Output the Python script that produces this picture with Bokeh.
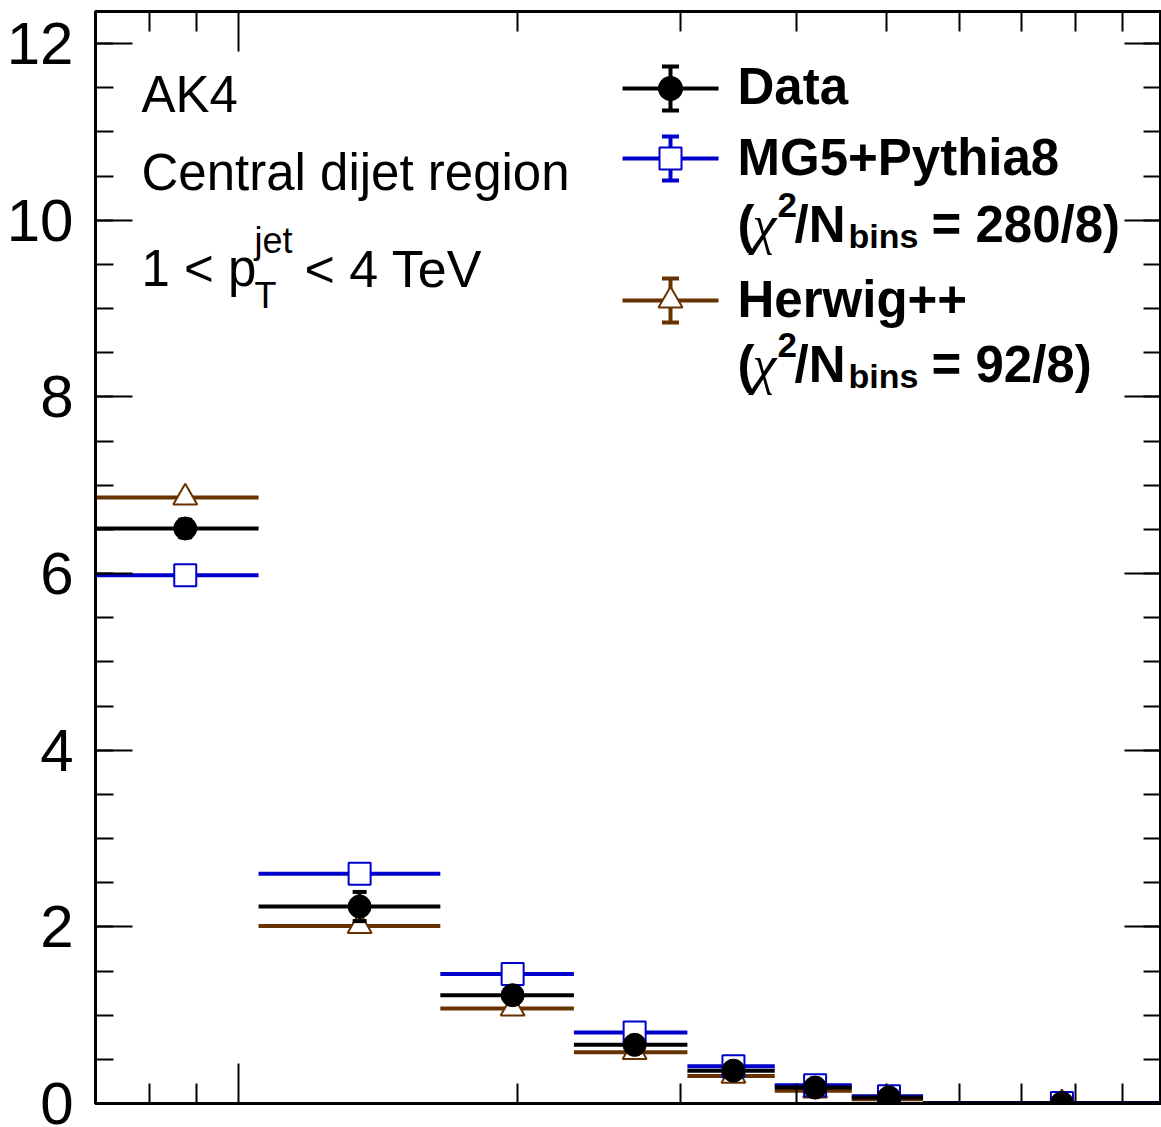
from bokeh.plotting import figure
from bokeh.models import Range1d, FixedTicker, LogAxis, LinearAxis, Label
from bokeh.embed import file_html
from bokeh.resources import INLINE

# ---------------- data ----------------
bin_edges = [0.7, 1.05, 1.65, 2.30, 3.05, 3.79, 4.59, 5.48, 10.0]
data_vals = [6.51, 2.23, 1.226, 0.664, 0.372, 0.180, 0.068, 0.004]
data_errs = [0.10, 0.165, 0.08, 0.05, 0.03, 0.02, 0.01, 0.002]
mg5_vals = [5.98, 2.60, 1.467, 0.804, 0.422, 0.207, 0.083, 0.006]
herwig_vals = [6.86, 2.01, 1.075, 0.581, 0.312, 0.145, 0.048, 0.003]
y_major_ticks = [0, 2, 4, 6, 8, 10, 12]
x_major_ticks = [1.0]
x_minor_ticks = [0.8, 0.9, 2, 3, 4, 5, 6, 7, 8, 9]

BLACK = "black"
BLUE = "#0000cc"
BROWN = "#663300"
SANS = "Liberation Sans"

X0, X1 = 0.7, 9.915
Y0, Y1 = 0.0, 12.363

p = figure(width=1161, height=1127, x_axis_type="log",
           x_range=Range1d(X0, X1), y_range=Range1d(Y0, Y1),
           output_backend="svg", toolbar_location=None,
           min_border_left=95, min_border_right=0,
           min_border_top=11, min_border_bottom=24)
p.background_fill_color = "white"
p.border_fill_color = "white"
p.outline_line_color = "black"
p.outline_line_width = 3
p.xgrid.visible = False
p.ygrid.visible = False

# pixel -> data helpers for annotations (frame: x 95..1161, y 11..1103)
FL, FR, FT, FB = 95.0, 1161.0, 11.0, 1103.0
def xd(px):
    return X0 * (X1 / X0) ** ((px - FL) / (FR - FL))
def yd(py):
    return Y0 + (Y1 - Y0) * (FB - py) / (FB - FT)

def style_axis(ax, major_in, minor_in, labels, ticks):
    ax.axis_line_width = 3
    ax.axis_line_color = "black"
    ax.major_tick_in = major_in
    ax.major_tick_out = 0
    ax.minor_tick_in = minor_in
    ax.minor_tick_out = 0
    ax.major_tick_line_width = 2
    ax.minor_tick_line_width = 2
    ax.major_label_text_font = SANS
    ax.major_label_text_color = "black"
    if labels:
        ax.major_label_text_font_size = "60px"
        ax.major_label_standoff = 22
    else:
        ax.major_label_text_font_size = "10px"
        ax.major_label_standoff = 0
        ax.major_label_overrides = {t: "" for t in ticks}

y_minor = [i * 0.5 for i in range(0, 26)]

p.xaxis.ticker = FixedTicker(ticks=x_major_ticks, minor_ticks=x_minor_ticks)
style_axis(p.xaxis[0], 40, 20, False, x_major_ticks)
p.yaxis.ticker = FixedTicker(ticks=y_major_ticks, minor_ticks=y_minor)
style_axis(p.yaxis[0], 37, 18, True, y_major_ticks)

top_ax = LogAxis(ticker=FixedTicker(ticks=x_major_ticks, minor_ticks=x_minor_ticks))
style_axis(top_ax, 40, 20, False, x_major_ticks)
p.add_layout(top_ax, "above")
right_ax = LinearAxis(ticker=FixedTicker(ticks=y_major_ticks, minor_ticks=y_minor))
style_axis(right_ax, 37, 18, False, y_major_ticks)
p.add_layout(right_ax, "right")

lo = bin_edges[:-1]
hi = bin_edges[1:]
centers = [(a + b) / 2 for a, b in zip(lo, hi)]

LW = 4
# horizontal bin-width lines
p.segment(x0=lo, x1=hi, y0=herwig_vals, y1=herwig_vals, line_color=BROWN, line_width=LW)
p.segment(x0=lo, x1=hi, y0=mg5_vals, y1=mg5_vals, line_color=BLUE, line_width=LW)
p.segment(x0=lo, x1=hi, y0=data_vals, y1=data_vals, line_color=BLACK, line_width=LW)

# markers
p.scatter(centers, herwig_vals, marker="triangle", size=24, fill_color="white",
          line_color=BROWN, line_width=2)
p.scatter(centers, mg5_vals, marker="square", size=22, fill_color="white",
          line_color=BLUE, line_width=2)

# data error bars
d_lo = [v - e for v, e in zip(data_vals, data_errs)]
d_hi = [v + e for v, e in zip(data_vals, data_errs)]
p.segment(x0=centers, x1=centers, y0=d_lo, y1=d_hi, line_color=BLACK, line_width=LW)
p.scatter(centers, d_lo, marker="dash", size=14, line_color=BLACK, line_width=4)
p.scatter(centers, d_hi, marker="dash", size=14, line_color=BLACK, line_width=4)
p.scatter(centers, data_vals, marker="circle", size=23, fill_color=BLACK, line_color=BLACK)

# ---------------- legend (drawn by hand) ----------------
leg_rows = [(88, BLACK, "circle", BLACK), (158, BLUE, "square", "white"), (300, BROWN, "triangle", "white")]
for py, col, mk, fill in leg_rows:
    p.segment(x0=[xd(622)], x1=[xd(718)], y0=[yd(py)], y1=[yd(py)], line_color=col, line_width=LW)
    p.segment(x0=[xd(670)], x1=[xd(670)], y0=[yd(py + 22)], y1=[yd(py - 22)], line_color=col, line_width=LW)
    p.scatter([xd(670), xd(670)], [yd(py + 22), yd(py - 22)], marker="dash", size=17,
              line_color=col, line_width=4)
    sz = {"circle": 23, "square": 22, "triangle": 24}[mk]
    p.scatter([xd(670)], [yd(py)], marker=mk, size=sz, fill_color=fill, line_color=col, line_width=2)

TEXT_SHIFT = 18  # empirical baseline correction (px)
def lab(px, py, text, size, bold=False, font=SANS, italic=False):
    style = "bold" if bold else ("italic" if italic else "normal")
    p.add_layout(Label(x=xd(px), y=yd(py - TEXT_SHIFT), text=text, text_font=font,
                       text_font_size=size, text_font_style=style, text_color="black",
                       text_align="left", text_baseline="alphabetic"))

lab(737, 104, "Data", "51px", bold=True)
lab(737, 175, "MG5+Pythia8", "51px", bold=True)
lab(737, 317, "Herwig++", "51px", bold=True)
for base, chi in ((242, "= 280/8)"), (382, "= 92/8)")):
    lab(737, base, "(", "51px", bold=True)
    lab(752, base, "\u03c7", "54px", font="Liberation Serif", italic=True)
    lab(777, base - 20, "2", "35px", bold=True)
    lab(794, base, "/N", "51px", bold=True)
    lab(848, base + 11, "bins", "34px", bold=True)
    lab(931, base, chi, "51px", bold=True)

# ---------------- left text ----------------
lab(141, 112, "AK4", "51px")
lab(141, 190, "Central dijet region", "51px")
lab(141, 286, "1 < p", "51px")
lab(254, 258, "jet", "36px")
lab(254, 313, "T", "36px")
lab(304, 286, "< 4 TeV", "52px")

open("out.html", "w").write(file_html(p, INLINE))
